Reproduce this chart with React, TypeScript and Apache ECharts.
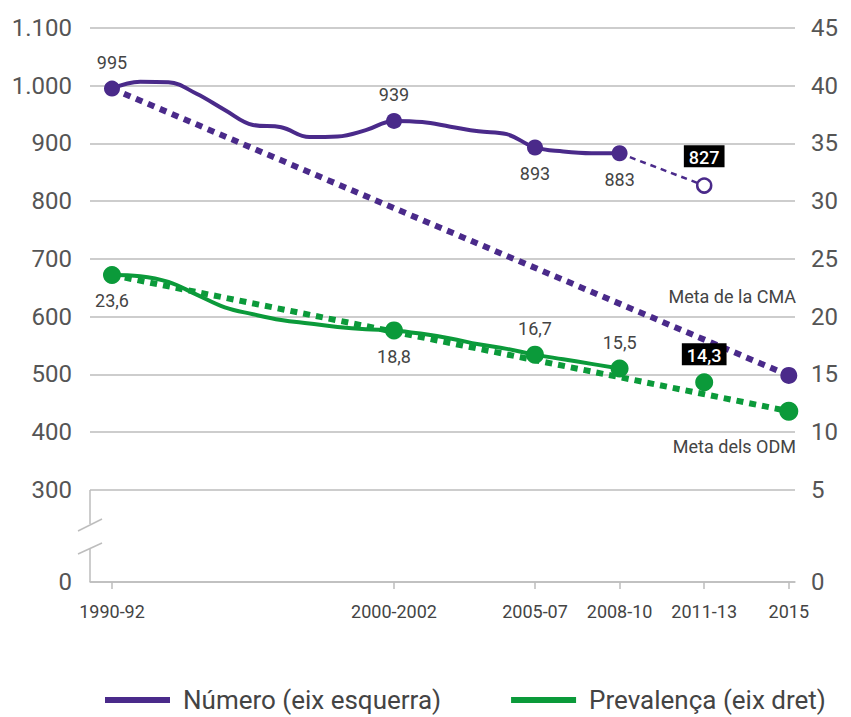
import React, { useEffect, useRef } from 'react';
import * as echarts from 'echarts';

// ---- Data ----
const numeroYears = [1991, 1992, 1993, 1994, 1995, 1996, 1997, 1998, 1999, 2000, 2001, 2002, 2003, 2004, 2005, 2006, 2007, 2008, 2009];
const numeroValues = [995, 1007, 1006, 986, 958, 932, 928, 911, 912, 923, 939, 937, 929, 921, 916, 893, 886, 883, 883];

const prevYears = [1991, 1992, 1993, 1994, 1995, 1996, 1997, 1998, 1999, 2000, 2001, 2002, 2003, 2004, 2005, 2006, 2007, 2008, 2009];
const prevValues = [23.6, 23.5, 23.0, 21.9, 20.8, 20.2, 19.7, 19.4, 19.1, 18.9, 18.8, 18.5, 18.1, 17.6, 17.2, 16.7, 16.3, 15.9, 15.5];

const numeroKeyYears = [1991, 2001, 2006, 2009];
const numeroKeyValues = [995, 939, 893, 883];
const numeroKeyLabelPos = ['top', 'top', 'bottom', 'bottom'];

const numeroProjYears = [2009, 2012];
const numeroProjValues = [883, 827];

const numeroGoalYears = [1991, 2015];
const numeroGoalValues = [995, 498];

const prevKeyYears = [1991, 2001, 2006, 2009];
const prevKeyValues = [23.6, 18.8, 16.7, 15.5];
const prevKeyLabelPos = ['bottom', 'bottom', 'top', 'top'];

const prevProjYear = 2012;
const prevProjValue = 14.3;

const prevGoalYears = [1991, 2015];
const prevGoalValues = [23.6, 11.8];

const xTickYears = [1991, 2001, 2006, 2009, 2012, 2015];
const xTickLabels = ['1990-92', '2000-2002', '2005-07', '2008-10', '2011-13', '2015'];

// left axis: 140 stands for the broken-axis "0"
const leftTicks = [140, 300, 400, 500, 600, 700, 800, 900, 1000, 1100];
const leftTickLabels = ['0', '300', '400', '500', '600', '700', '800', '900', '1.000', '1.100'];
// right axis: -3 stands for the broken-axis "0"
const rightTicks = [-3, 5, 10, 15, 20, 25, 30, 35, 40, 45];
const rightTickLabels = ['0', '5', '10', '15', '20', '25', '30', '35', '40', '45'];

const legendNames = ['Número (eix esquerra)', 'Prevalença (eix dret)'];

const PURPLE = '#4a2a8a';
const GREEN = '#0b9a3a';
const GRID = '#bdbdbd';
const TEXT = '#555';
const FONT = 'Roboto, sans-serif';

const zip = (xs: number[], ys: number[]) => xs.map((x, i) => [x, ys[i]]);
const comma = (v: number) => String(v).replace('.', ',');

export default function App() {
  const ref = useRef<HTMLDivElement>(null);

  useEffect(() => {
    document.body.style.margin = '0';
    if (!ref.current) return;
    const chart = echarts.init(ref.current, undefined, { renderer: 'svg' });

    const option: any = {
      animation: false,
      backgroundColor: '#fff',
      textStyle: { fontFamily: FONT },
      grid: { left: 90, right: 56, top: 28, bottom: 135, containLabel: false, outerBoundsMode: 'none' },
      legend: {
        data: legendNames,
        left: 100,
        top: 682,
        icon: 'rect',
        itemWidth: 65,
        itemHeight: 6,
        itemGap: 70,
        textStyle: { fontSize: 26, color: '#444', fontFamily: FONT, padding: [0, 0, 0, 8] },
      },
      xAxis: {
        type: 'value',
        min: 1990.22,
        max: 2015.22,
        axisLine: { show: true, onZero: false, lineStyle: { color: GRID, width: 1.5 } },
        axisTick: { show: true, inside: false, length: 7, lineStyle: { color: GRID, width: 1.5 }, customValues: xTickYears },
        axisLabel: {
          customValues: xTickYears,
          formatter: (v: number) => {
            const i = xTickYears.indexOf(Math.round(v));
            return i >= 0 ? xTickLabels[i] : '';
          },
          fontSize: 18,
          fontWeight: 'normal',
          color: '#444',
          margin: 20,
          fontFamily: FONT,
        },
        splitLine: { show: false },
      },
      yAxis: [
        {
          type: 'value',
          min: 140,
          max: 1100,
          position: 'left',
          axisLine: { show: false },
          axisTick: { show: false, customValues: leftTicks },
          axisLabel: {
            customValues: leftTicks,
            formatter: (v: number) => {
              const i = leftTicks.indexOf(Math.round(v));
              return i >= 0 ? leftTickLabels[i] : '';
            },
            fontSize: 24,
            color: TEXT,
            margin: 18,
            fontFamily: FONT,
          },
          splitLine: { show: true, lineStyle: { color: GRID, width: 1.5 } },
        },
        {
          type: 'value',
          min: -3,
          max: 45,
          position: 'right',
          axisLine: { show: false, onZero: false },
          axisTick: { show: false, customValues: rightTicks },
          axisLabel: {
            customValues: rightTicks,
            formatter: (v: number) => {
              const i = rightTicks.indexOf(Math.round(v));
              return i >= 0 ? rightTickLabels[i] : '';
            },
            fontSize: 24,
            color: TEXT,
            margin: 16,
            fontFamily: FONT,
          },
          splitLine: { show: false },
        },
      ],
      series: [
        {
          name: 'Meta CMA',
          type: 'line',
          yAxisIndex: 0,
          data: [
            { value: [numeroGoalYears[0], numeroGoalValues[0]], symbol: 'none' },
            { value: [numeroGoalYears[1], numeroGoalValues[1]], symbol: 'circle', symbolSize: 17 },
          ],
          showSymbol: true,
          itemStyle: { color: PURPLE },
          lineStyle: { color: PURPLE, width: 6, type: [7, 6], cap: 'butt' },
          z: 2,
        },
        {
          name: 'Meta ODM',
          type: 'line',
          yAxisIndex: 1,
          data: [
            { value: [prevGoalYears[0], prevGoalValues[0]], symbol: 'none' },
            { value: [prevGoalYears[1], prevGoalValues[1]], symbol: 'circle', symbolSize: 19 },
          ],
          showSymbol: true,
          itemStyle: { color: GREEN },
          lineStyle: { color: GREEN, width: 6, type: [7, 6], cap: 'butt' },
          z: 2,
        },
        {
          name: legendNames[0],
          type: 'line',
          yAxisIndex: 0,
          smooth: 0.4,
          symbol: 'none',
          data: zip(numeroYears, numeroValues),
          itemStyle: { color: PURPLE },
          lineStyle: { color: PURPLE, width: 4 },
          z: 3,
        },
        {
          name: legendNames[1],
          type: 'line',
          yAxisIndex: 1,
          smooth: 0.4,
          symbol: 'none',
          data: zip(prevYears, prevValues),
          itemStyle: { color: GREEN },
          lineStyle: { color: GREEN, width: 4 },
          z: 3,
        },
        {
          name: 'Projecció nombre',
          type: 'line',
          yAxisIndex: 0,
          symbol: 'none',
          data: zip(numeroProjYears, numeroProjValues),
          lineStyle: { color: PURPLE, width: 2.5, type: [6, 5] },
          z: 3,
        },
        {
          name: 'Punts nombre',
          type: 'scatter',
          yAxisIndex: 0,
          symbolSize: 16,
          itemStyle: { color: PURPLE, opacity: 1 },
          data: numeroKeyYears.map((y, i) => ({
            value: [y, numeroKeyValues[i]],
            label: { position: numeroKeyLabelPos[i] },
          })),
          label: {
            show: true,
            formatter: (p: any) => String(p.value[1]),
            fontSize: 18,
            color: '#444',
            distance: 9,
            fontFamily: FONT,
          },
          z: 5,
        },
        {
          name: 'Punt 2011-13 nombre',
          type: 'scatter',
          yAxisIndex: 0,
          symbolSize: 14,
          itemStyle: { color: '#fff', borderColor: PURPLE, borderWidth: 2.5, opacity: 1 },
          data: [[numeroProjYears[1], numeroProjValues[1]]],
          label: {
            show: true,
            position: 'top',
            distance: 10,
            formatter: (p: any) => String(p.value[1]),
            backgroundColor: '#000',
            color: '#fff',
            fontSize: 18,
            fontWeight: 500,
            padding: [3, 5, 1, 5],
            fontFamily: FONT,
          },
          z: 5,
        },
        {
          name: 'Punts prevalença',
          type: 'scatter',
          yAxisIndex: 1,
          symbolSize: 18,
          itemStyle: { color: GREEN, opacity: 1 },
          data: prevKeyYears.map((y, i) => ({
            value: [y, prevKeyValues[i]],
            label: { position: prevKeyLabelPos[i] },
          })),
          label: {
            show: true,
            formatter: (p: any) => comma(p.value[1]),
            fontSize: 18,
            color: '#444',
            distance: 8,
            fontFamily: FONT,
          },
          z: 5,
        },
        {
          name: 'Punt 2011-13 prevalença',
          type: 'scatter',
          yAxisIndex: 1,
          symbolSize: 18,
          itemStyle: { color: GREEN, opacity: 1 },
          data: [[prevProjYear, prevProjValue]],
          label: {
            show: true,
            position: 'top',
            distance: 8,
            formatter: (p: any) => comma(p.value[1]),
            backgroundColor: '#000',
            color: '#fff',
            fontSize: 18,
            fontWeight: 500,
            padding: [3, 5, 1, 5],
            fontFamily: FONT,
          },
          z: 5,
        },
      ],
      graphic: [
        { type: 'line', shape: { x1: 90, y1: 490, x2: 90, y2: 524 }, style: { stroke: GRID, lineWidth: 1.5 } },
        { type: 'line', shape: { x1: 90, y1: 548, x2: 90, y2: 582 }, style: { stroke: GRID, lineWidth: 1.5 } },
        { type: 'line', shape: { x1: 78, y1: 531, x2: 102, y2: 519 }, style: { stroke: GRID, lineWidth: 1.5 } },
        { type: 'line', shape: { x1: 78, y1: 554, x2: 102, y2: 543 }, style: { stroke: GRID, lineWidth: 1.5 } },
        {
          type: 'text',
          x: 796,
          y: 296,
          style: { text: 'Meta de la CMA', fontSize: 18, fill: '#444', align: 'right', verticalAlign: 'middle', fontFamily: FONT },
        },
        {
          type: 'text',
          x: 796,
          y: 446,
          style: { text: 'Meta dels ODM', fontSize: 18, fill: '#444', align: 'right', verticalAlign: 'middle', fontFamily: FONT },
        },
      ],
    };

    chart.setOption(option);
    return () => chart.dispose();
  }, []);

  return <div ref={ref} style={{ width: 851, height: 717 }} />;
}
